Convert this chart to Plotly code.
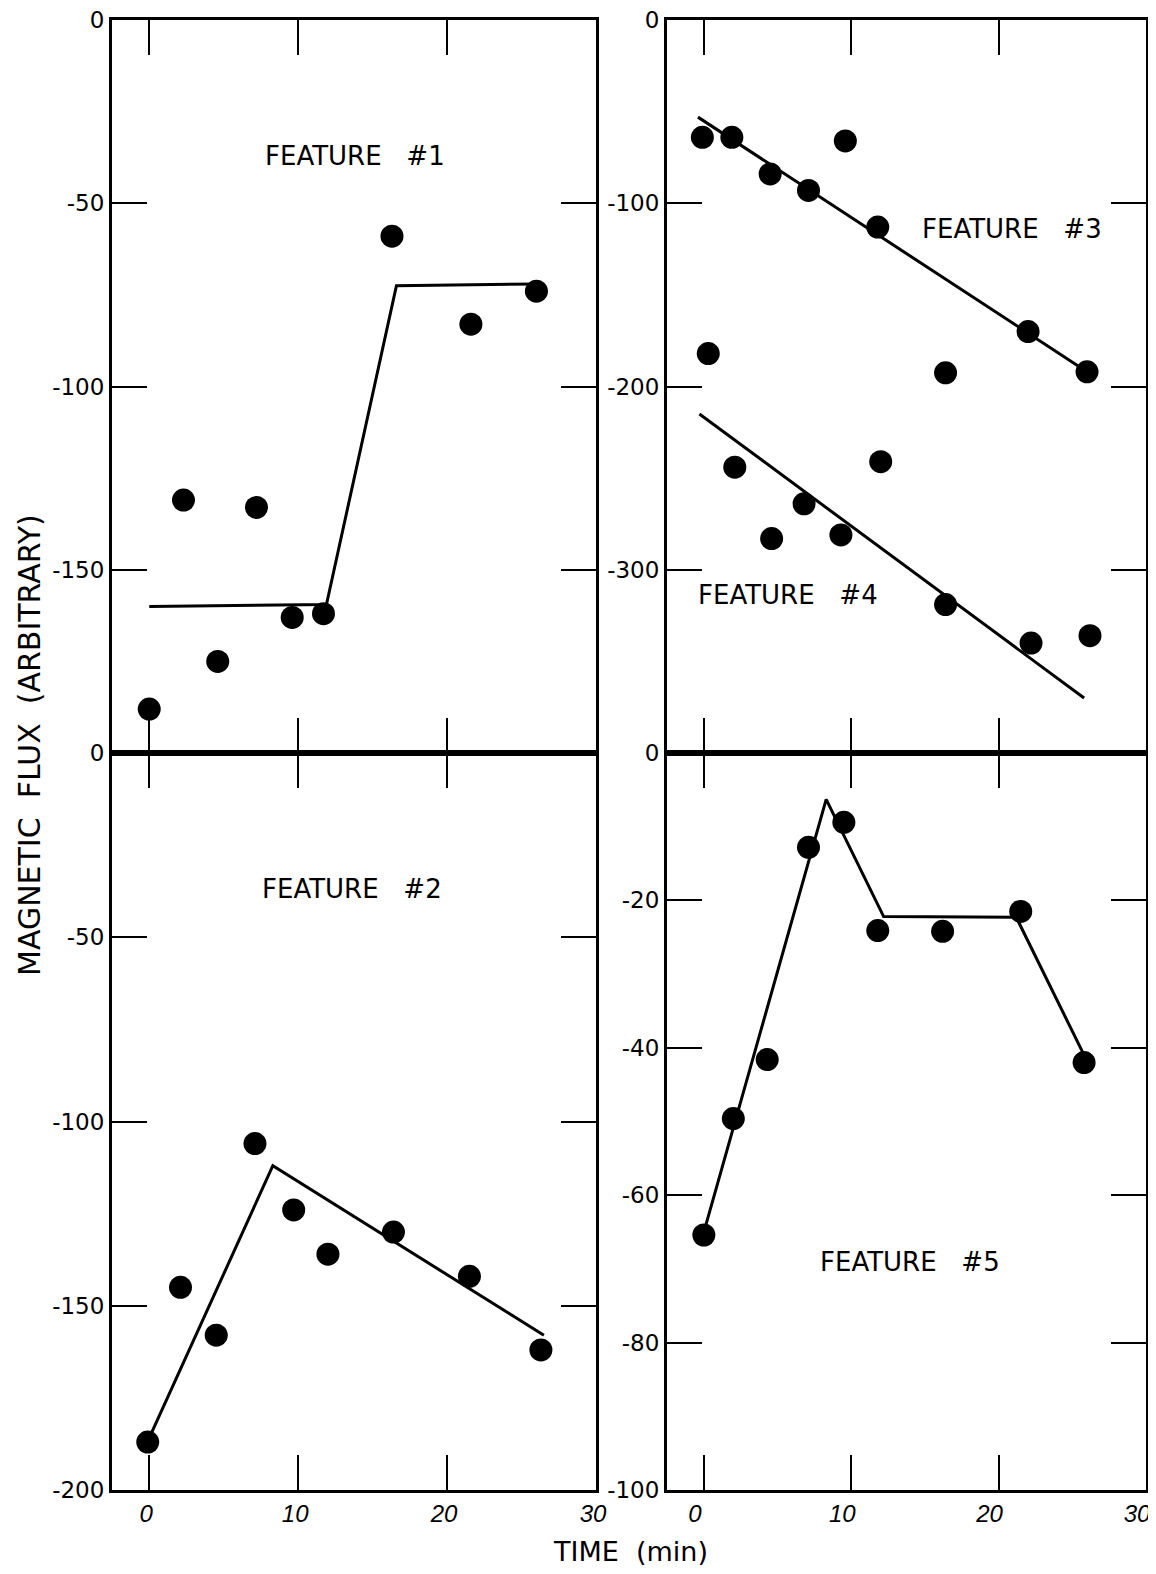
import plotly.graph_objects as go

# The page body adds an 8px margin; the figure is sized/positioned to compensate
# (and kept small enough that the page never needs scrollbars).
OFF = 8
W, H = 1156 - OFF, 1574 - 2 * OFF

# ---------------- data ----------------
f1_t = [0, 2.3, 4.6, 7.2, 9.6, 11.7, 16.3, 21.6, 26.0]
f1_flux = [-188, -131, -175, -133, -163, -162, -59, -83, -74]
f1_fit_t = [0, 11.9, 16.6, 26.0]
f1_fit = [-160, -159.5, -72.5, -72]

f2_t = [-0.1, 2.1, 4.5, 7.1, 9.7, 12.0, 16.4, 21.5, 26.3]
f2_flux = [-187, -145, -158, -106, -124, -136, -130, -142, -162]
f2_fit_t = [0.1, 8.3, 26.5]
f2_fit = [-185, -112, -158]

f3_t = [-0.1, 1.9, 4.5, 7.1, 9.6, 11.8, 22.0, 26.0]
f3_flux = [-64, -64, -84, -93, -66, -113, -170, -192]
f3_fit_t = [-0.4, 26.2]
f3_fit = [-53, -193]

f4_t = [0.3, 2.1, 4.6, 6.8, 9.3, 12.0, 16.4, 16.4, 22.2, 26.2]
f4_flux = [-182, -244, -283, -264, -281, -241, -192.5, -319, -340, -336]
f4_fit_t = [-0.3, 25.8]
f4_fit = [-215, -370]

f5_t = [0, 2.0, 4.3, 7.1, 9.5, 11.8, 16.2, 21.5, 25.8]
f5_flux = [-65.4, -49.6, -41.6, -12.8, -9.4, -24.1, -24.2, -21.5, -42.0]
f5_fit_t = [0, 8.3, 12.2, 21.2, 25.8]
f5_fit = [-65, -6.3, -22.2, -22.3, -41]

x_ticks_top = [0, 10, 20]
x_ticks_bottom = [0, 10, 20, 30]
x_ticklabels_bottom = ["0", "10", "20", "30"]

y1_ticks = [0, -50, -100, -150]
y1_labels = ["0", "-50", "-100", "-150"]
y3_ticks = [0, -50, -100, -150, -200]
y3_labels = ["0", "-50", "-100", "-150", "-200"]
y2_ticks = [0, -100, -200, -300]
y2_labels = ["0", "-100", "-200", "-300"]
y4_ticks = [0, -20, -40, -60, -80, -100]
y4_labels = ["0", "-20", "-40", "-60", "-80", "-100"]

labels = [
    ("FEATURE #1", 13.8, -37, "x", "y"),
    ("FEATURE #3", 20.9, -114, "x2", "y2"),
    ("FEATURE #4", 5.7, -314, "x2", "y2"),
    ("FEATURE #2", 13.6, -37, "x3", "y3"),
    ("FEATURE #5", 14.0, -69, "x4", "y4"),
]

# ---------------- figure ----------------
fig = go.Figure()

def add_feature(t, v, ft, fv, xa, ya):
    fig.add_trace(go.Scatter(x=ft, y=fv, mode="lines", xaxis=xa, yaxis=ya,
                             line=dict(color="black", width=3), showlegend=False,
                             hoverinfo="skip"))
    fig.add_trace(go.Scatter(x=t, y=v, mode="markers", xaxis=xa, yaxis=ya,
                             marker=dict(color="black", size=23, line=dict(width=0)),
                             showlegend=False, cliponaxis=False))

add_feature(f1_t, f1_flux, f1_fit_t, f1_fit, "x", "y")
add_feature(f3_t, f3_flux, f3_fit_t, f3_fit, "x2", "y2")
add_feature(f4_t, f4_flux, f4_fit_t, f4_fit, "x2", "y2")
add_feature(f2_t, f2_flux, f2_fit_t, f2_fit, "x3", "y3")
add_feature(f5_t, f5_flux, f5_fit_t, f5_fit, "x4", "y4")

def px_x(X):
    return (X - OFF) / W

def px_y(Y):
    return 1 - (Y - OFF) / H

def xdom(a, b):
    return [px_x(a), px_x(b)]

def ydom(top, bottom):
    return [px_y(bottom), px_y(top)]

tickfont = dict(family="DejaVu Sans", size=23, color="black")
xtickfont = dict(family="Liberation Sans", size=24, color="black", style="italic")

common = dict(showline=True, linewidth=3, linecolor="black", mirror="ticks",
              ticks="inside", ticklen=35, tickwidth=1.6, tickcolor="black",
              showgrid=False, zeroline=False, automargin=False,
              ticklabeloverflow="allow")

L = xdom(112, 596)
R = xdom(667, 1146)
T = ydom(20, 753)
B = ydom(753, 1490)

fig.update_layout(
    template="none",
    width=W, height=H,
    margin=dict(l=0, r=0, t=0, b=0, pad=0),
    paper_bgcolor="white", plot_bgcolor="white",
    showlegend=False,
    xaxis=dict(domain=L, anchor="y", range=[-2.5, 30], tickvals=x_ticks_top,
               showticklabels=False, **common),
    yaxis=dict(domain=T, anchor="x", range=[-200, 0], tickvals=y1_ticks,
               ticktext=y1_labels, tickfont=tickfont, **common),
    xaxis2=dict(domain=R, anchor="y2", range=[-2.5, 30], tickvals=x_ticks_top,
                showticklabels=False, **common),
    yaxis2=dict(domain=T, anchor="x2", range=[-400, 0], tickvals=y2_ticks,
                ticktext=y2_labels, tickfont=tickfont, **common),
    xaxis3=dict(domain=L, anchor="y3", range=[-2.5, 30], tickvals=x_ticks_bottom,
                ticktext=x_ticklabels_bottom, tickfont=xtickfont,
                ticklabelshift=-3, **common),
    yaxis3=dict(domain=B, anchor="x3", range=[-200, 0], tickvals=y3_ticks,
                ticktext=y3_labels, tickfont=tickfont, **common),
    xaxis4=dict(domain=R, anchor="y4", range=[-2.5, 30], tickvals=x_ticks_bottom,
                ticktext=x_ticklabels_bottom, tickfont=xtickfont,
                ticklabelshift=-9, **common),
    yaxis4=dict(domain=B, anchor="x4", range=[-100, 0], tickvals=y4_ticks,
                ticktext=y4_labels, tickfont=tickfont, **common),
)

for text, x, y, xr, yr in labels:
    fig.add_annotation(text=text.replace(" ", "\u00a0\u00a0\u00a0"), x=x, y=y, xref=xr, yref=yr,
                       showarrow=False, xanchor="center", yanchor="middle",
                       font=dict(family="DejaVu Sans", size=26, color="black"))

fig.add_annotation(text="MAGNETIC\u00a0\u00a0FLUX\u00a0\u00a0(ARBITRARY)",
                   x=px_x(29), y=px_y(745), xref="paper", yref="paper",
                   xanchor="center", yanchor="middle", textangle=-90, showarrow=False,
                   font=dict(family="DejaVu Sans", size=30, color="black"))
fig.add_annotation(text="TIME\u00a0\u00a0(min)", x=px_x(630), y=px_y(1551),
                   xref="paper", yref="paper", xanchor="center", yanchor="middle",
                   showarrow=False,
                   font=dict(family="DejaVu Sans", size=27, color="black"))

fig.write_html("out.html",
               post_script="document.documentElement.style.overflow='hidden';")
